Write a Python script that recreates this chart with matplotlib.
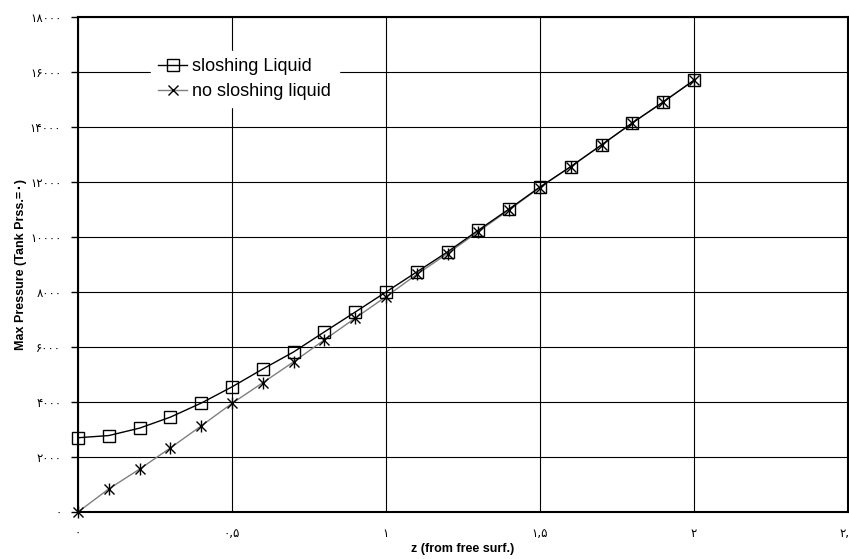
import matplotlib
matplotlib.use('Agg')
import matplotlib.pyplot as plt

# depth below the free surface
z = [0.0, 0.1, 0.2, 0.3, 0.4, 0.5, 0.6, 0.7, 0.8, 0.9, 1.0,
     1.1, 1.2, 1.3, 1.4, 1.5, 1.6, 1.7, 1.8, 1.9, 2.0]

# max pressure with sloshing liquid
p_slosh = [2700, 2780, 3050, 3450, 3960, 4550, 5200, 5820, 6550, 7270, 8000,
           8730, 9460, 10250, 11020, 11820, 12560, 13350, 14150, 14910, 15700]

# max pressure without sloshing (hydrostatic)
p_static = [0, 840, 1560, 2330, 3130, 3950, 4700, 5460, 6260, 7050, 7830,
            8640, 9400, 10200, 10990, 11800, 12560, 13350, 14150, 14910, 15700]

x_ticks = [0, 0.5, 1, 1.5, 2, 2.5]
x_tick_labels = ['۰', '۰,۵', '۱', '۱,۵', '۲', '۲,۵']
y_ticks = [0, 2000, 4000, 6000, 8000, 10000, 12000, 14000, 16000, 18000]
y_tick_labels = ['۰', '۲۰۰۰', '۴۰۰۰', '۶۰۰۰', '۸۰۰۰', '۱۰۰۰۰',
                 '۱۲۰۰۰', '۱۴۰۰۰', '۱۶۰۰۰', '۱۸۰۰۰']

plt.rcParams['font.family'] = ['Liberation Sans', 'DejaVu Sans']

fig = plt.figure(figsize=(8.49, 5.59), dpi=100)
ax = fig.add_axes([78 / 849, 47 / 559, 770 / 849, 495 / 559])

ax.plot(z, p_slosh, color='black', lw=1.0, marker='s', markersize=8,
        markerfacecolor='none', markeredgecolor='black', markeredgewidth=1.0,
        label='sloshing Liquid', zorder=4, clip_on=False)
ax.plot(z, p_static, color='#7f7f7f', lw=1.0, marker='x', markersize=7,
        markeredgecolor='black', markeredgewidth=1.0,
        label='no sloshing liquid', zorder=3, clip_on=False)
# the star marker is an x crossed by a short vertical stroke
ax.plot(z, p_static, linestyle='none', marker='|', markersize=8,
        markeredgecolor='black', markeredgewidth=1.0, zorder=3, clip_on=False)

ax.set_xlim(0, 2.5)
ax.set_ylim(0, 18000)
ax.set_xticks(x_ticks)
ax.set_xticklabels(x_tick_labels, family=['DejaVu Sans'], fontsize=8.5)
ax.set_yticks(y_ticks)
ax.set_yticklabels(y_tick_labels, family=['DejaVu Sans'], fontsize=8.5)
ax.tick_params(axis='x', length=0, pad=11)
ax.tick_params(axis='y', length=5, width=1, pad=7, direction='out')

ax.grid(True, color='black', lw=0.8)
ax.set_axisbelow(True)
for s in ax.spines.values():
    s.set_linewidth(1.5)
    s.set_color('black')

ax.set_xlabel('z (from free surf.)', fontsize=9, fontweight='bold', labelpad=2)
ax.set_ylabel('Max Pressure (Tank Prss.=۰)', fontsize=9, fontweight='bold',
              labelpad=2, family=['Liberation Sans', 'DejaVu Sans'])

leg = ax.legend(loc='upper left', bbox_to_anchor=(0.083, 0.95), frameon=True,
                fontsize=13, handlelength=1.6, handletextpad=0.3,
                borderpad=0.4, labelspacing=0.45, fancybox=False)
leg.get_frame().set_edgecolor('white')
leg.get_frame().set_facecolor('white')
leg.get_frame().set_alpha(1)

fig.savefig('out.png', dpi=100, facecolor='white')
